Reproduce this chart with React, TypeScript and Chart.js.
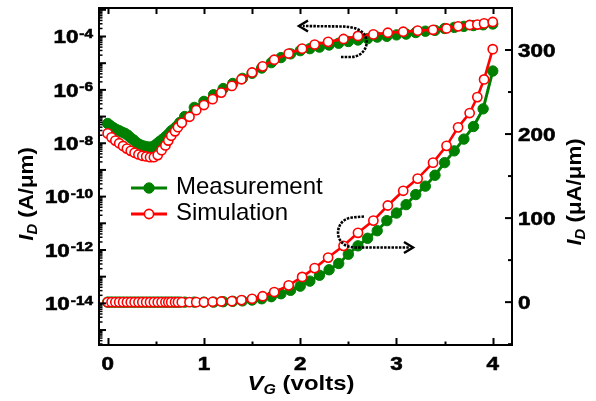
import { useEffect, useRef } from 'react';
import { Chart, registerables } from 'chart.js';

Chart.register(...registerables);

// Gate voltage sweep points (V)
const simV = [0, 0.04, 0.08, 0.12, 0.16, 0.2, 0.24, 0.28, 0.32, 0.36, 0.4, 0.44, 0.48, 0.52, 0.56, 0.6, 0.63, 0.66, 0.7, 0.73, 0.77, 0.85, 0.92, 1.0, 1.09, 1.18, 1.29, 1.39, 1.5, 1.61, 1.73, 1.88, 2.02, 2.15, 2.29, 2.45, 2.6, 2.76, 2.91, 3.07, 3.22, 3.38, 3.52, 3.64, 3.76, 3.84, 3.91, 4.0];
// Simulated drain current, A/um (log axis)
const simLog = [2.34e-8, 1.66e-8, 1.26e-8, 1.0e-8, 7.9e-9, 6.3e-9, 5.2e-9, 4.4e-9, 3.8e-9, 3.4e-9, 3.2e-9, 3.0e-9, 3.0e-9, 3.6e-9, 5.5e-9, 8.3e-9, 1.26e-8, 1.9e-8, 2.8e-8, 4.0e-8, 5.8e-8, 9.8e-8, 1.74e-7, 2.7e-7, 4.5e-7, 7.9e-7, 1.41e-6, 2.5e-6, 4.5e-6, 7.6e-6, 1.35e-5, 2.3e-5, 3.5e-5, 5.0e-5, 6.3e-5, 8.1e-5, 1.05e-4, 1.2e-4, 1.38e-4, 1.51e-4, 1.66e-4, 1.78e-4, 2.0e-4, 2.4e-4, 2.7e-4, 2.8e-4, 3.1e-4, 3.5e-4];
// Simulated drain current, uA/um (linear axis)
const simLin = [0, 0, 0, 0, 0, 0, 0, 0, 0, 0, 0, 0, 0, 0, 0, 0, 0, 0, 0, 0, 0, 0, 0, 0, 0.4, 0.8, 1.2, 2.4, 4, 7, 12, 20, 30, 40.5, 53, 67, 82.5, 97, 115, 132.5, 147, 166, 186, 208, 225, 244, 265, 301];

const measV = [0, 0.03, 0.06, 0.09, 0.12, 0.15, 0.18, 0.21, 0.24, 0.27, 0.3, 0.33, 0.36, 0.39, 0.42, 0.45, 0.48, 0.51, 0.54, 0.57, 0.6, 0.63, 0.66, 0.69, 0.72, 0.75, 0.8, 0.9, 1.0, 1.1, 1.2, 1.3, 1.4, 1.5, 1.6, 1.7, 1.8, 1.9, 2.0, 2.1, 2.2, 2.3, 2.4, 2.5, 2.6, 2.7, 2.8, 2.9, 3.0, 3.1, 3.2, 3.3, 3.4, 3.5, 3.6, 3.7, 3.8, 3.9, 4.0];
const measLog = [5.5e-8, 4.5e-8, 3.8e-8, 3.3e-8, 2.95e-8, 2.6e-8, 2.35e-8, 2.0e-8, 1.58e-8, 1.32e-8, 1.05e-8, 9.1e-9, 8.1e-9, 7.6e-9, 7.2e-9, 7.2e-9, 7.9e-9, 9.5e-9, 1.17e-8, 1.41e-8, 1.74e-8, 2.2e-8, 2.9e-8, 3.5e-8, 4.4e-8, 6.0e-8, 1.0e-7, 2.2e-7, 3.7e-7, 6.6e-7, 1.12e-6, 1.74e-6, 2.7e-6, 4.2e-6, 6.6e-6, 1.05e-5, 1.62e-5, 2.24e-5, 2.95e-5, 3.5e-5, 4.0e-5, 4.8e-5, 5.6e-5, 6.5e-5, 7.4e-5, 8.3e-5, 9.5e-5, 1.02e-4, 1.15e-4, 1.23e-4, 1.41e-4, 1.58e-4, 1.7e-4, 2.0e-4, 2.2e-4, 2.4e-4, 2.57e-4, 2.75e-4, 2.95e-4];
const measLin = [0, 0, 0, 0, 0, 0, 0, 0, 0, 0, 0, 0, 0, 0, 0, 0, 0, 0, 0, 0, 0, 0, 0, 0, 0, 0, 0, 0, 0, 0, 0.5, 1, 1.5, 2.5, 4, 6.5, 10, 14, 19, 25, 32, 38.5, 46, 57, 67, 76, 85, 97, 106, 116, 128, 138, 151, 166, 180, 194, 209, 230, 275];

// Axis ticks and labels
const xTicks = [0, 0.5, 1, 1.5, 2, 2.5, 3, 3.5, 4];
const xTickLabels = ['0', '1', '2', '3', '4'];
const leftExponents = [-14, -12, -10, -8, -6, -4];
const rightTicks = [0, 100, 200, 300];
const rightMinorTicks = [-50, 50, 150, 250];

const GREEN = '#008000';
const RED = '#ff0000';
const FAMILY = '"Liberation Sans", Arial, Helvetica, sans-serif';

type Part = { text: string; font: string; dy?: number };

function stretchText(ctx: CanvasRenderingContext2D, text: string, x: number, y: number, font: string, align: string, sx: number) {
  ctx.save();
  ctx.font = font;
  ctx.textAlign = 'left';
  ctx.textBaseline = 'alphabetic';
  const w = ctx.measureText(text).width * sx;
  let x0 = x;
  if (align === 'center') x0 = x - w / 2;
  else if (align === 'right') x0 = x - w;
  ctx.translate(x0, y);
  ctx.scale(sx, 1);
  ctx.fillText(text, 0, 0);
  // a light stroke thickens the bold glyphs a little
  ctx.lineWidth = 0.6;
  ctx.strokeStyle = ctx.fillStyle as string;
  ctx.strokeText(text, 0, 0);
  ctx.restore();
  return w;
}

// Draws a run of text pieces (for subscripts) centred on (cx, baseline cy), optionally rotated
function drawParts(ctx: CanvasRenderingContext2D, parts: Part[], cx: number, cy: number, rot: number, sx: number) {
  ctx.save();
  ctx.textAlign = 'left';
  ctx.textBaseline = 'alphabetic';
  let total = 0;
  const widths = parts.map((p) => {
    ctx.font = p.font;
    const w = ctx.measureText(p.text).width;
    total += w;
    return w;
  });
  ctx.translate(cx, cy);
  ctx.rotate(rot);
  ctx.scale(sx, 1);
  let x = -total / 2;
  parts.forEach((p, i) => {
    ctx.font = p.font;
    ctx.fillText(p.text, x, p.dy || 0);
    x += widths[i];
  });
  ctx.restore();
}

function arrowHead(ctx: CanvasRenderingContext2D, tipX: number, tipY: number, dir: number) {
  ctx.save();
  ctx.setLineDash([]);
  ctx.lineWidth = 2.5;
  ctx.lineJoin = 'miter';
  ctx.beginPath();
  ctx.moveTo(tipX - dir * 9, tipY - 5.5);
  ctx.lineTo(tipX, tipY);
  ctx.lineTo(tipX - dir * 9, tipY + 5.5);
  ctx.stroke();
  ctx.restore();
}

const decorPlugin = {
  id: 'decor',
  afterDatasetsDraw(chart: any) {
    const { ctx, chartArea: a, scales } = chart;
    const sx = scales.x;
    const sy = scales.y;
    const sy2 = scales.y2;
    ctx.save();
    ctx.fillStyle = '#000';
    ctx.strokeStyle = '#000';

    // frame
    ctx.lineWidth = 2;
    ctx.strokeRect(a.left, a.top, a.right - a.left, a.bottom - a.top);

    // x ticks (inward, bottom and top)
    xTicks.forEach((v) => {
      const px = Math.round(sx.getPixelForValue(v)) + 0.5;
      const major = Number.isInteger(v);
      ctx.lineWidth = 2;
      ctx.beginPath();
      ctx.moveTo(px, a.bottom);
      ctx.lineTo(px, a.bottom - (major ? 7 : 3.5));
      ctx.moveTo(px, a.top);
      ctx.lineTo(px, a.top + 6);
      ctx.stroke();
    });

    // left log ticks
    for (let e = -16; e <= -2; e++) {
      for (let m = 1; m <= 9; m++) {
        const v = m * Math.pow(10, e);
        if (v < sy.min || v > sy.max) continue;
        const py = sy.getPixelForValue(v);
        ctx.lineWidth = m === 1 ? 2 : 1.5;
        ctx.beginPath();
        ctx.moveTo(a.left, py);
        ctx.lineTo(a.left + (m === 1 ? 7 : 3.5), py);
        ctx.stroke();
      }
    }

    // right linear ticks
    rightTicks.forEach((v) => {
      const py = sy2.getPixelForValue(v);
      ctx.lineWidth = 2;
      ctx.beginPath();
      ctx.moveTo(a.right, py);
      ctx.lineTo(a.right - 7, py);
      ctx.stroke();
    });
    rightMinorTicks.forEach((v) => {
      const py = sy2.getPixelForValue(v);
      ctx.lineWidth = 2;
      ctx.beginPath();
      ctx.moveTo(a.right, py);
      ctx.lineTo(a.right - 4, py);
      ctx.stroke();
    });

    // tick labels
    const tickFont = `bold 19px ${FAMILY}`;
    const supFont = `bold 13px ${FAMILY}`;
    const stretch = 1.18;
    xTickLabels.forEach((t) => {
      const px = sx.getPixelForValue(Number(t));
      stretchText(ctx, t, px, a.bottom + 25, tickFont, 'center', stretch);
    });
    leftExponents.forEach((e) => {
      const py = sy.getPixelForValue(Math.pow(10, e));
      ctx.font = supFont;
      const supW = ctx.measureText(String(e)).width * stretch;
      const right = a.left - 6;
      stretchText(ctx, String(e), right, py + 1.5, supFont, 'right', stretch);
      stretchText(ctx, '10', right - supW - 1, py + 6.8, tickFont, 'right', stretch);
    });
    rightTicks.forEach((v) => {
      const py = sy2.getPixelForValue(v);
      stretchText(ctx, String(v), a.right + 6, py + 6.8, tickFont, 'left', stretch);
    });

    // axis titles
    const tFont = `bold 21px ${FAMILY}`;
    const tItal = `italic bold 21px ${FAMILY}`;
    const sub = `italic bold 14px ${FAMILY}`;
    drawParts(ctx, [
      { text: 'V', font: tItal },
      { text: 'G', font: sub, dy: 4 },
      { text: ' (volts)', font: tFont },
    ], 301, 390, 0, 1.14);
    drawParts(ctx, [
      { text: 'I', font: tItal },
      { text: 'D', font: sub, dy: 4 },
      { text: ' (A/\u03bcm)', font: tFont },
    ], 33, 194, -Math.PI / 2, 1.06);
    drawParts(ctx, [
      { text: 'I', font: tItal },
      { text: 'D', font: sub, dy: 4 },
      { text: ' (\u03bcA/\u03bcm)', font: tFont },
    ], 581, 192, -Math.PI / 2, 1.06);

    // legend
    const legend = [
      { label: 'Measurement', y: 188, color: GREEN, fill: GREEN, r: 5.2, bw: 1 },
      { label: 'Simulation', y: 214, color: RED, fill: '#fff', r: 4.6, bw: 1.6 },
    ];
    legend.forEach((l) => {
      ctx.strokeStyle = l.color;
      ctx.lineWidth = 3;
      ctx.beginPath();
      ctx.moveTo(131, l.y);
      ctx.lineTo(167, l.y);
      ctx.stroke();
      ctx.beginPath();
      ctx.arc(149, l.y, l.r, 0, Math.PI * 2);
      ctx.fillStyle = l.fill;
      ctx.fill();
      ctx.lineWidth = l.bw;
      ctx.stroke();
      ctx.fillStyle = '#000';
      ctx.font = `24px ${FAMILY}`;
      ctx.textAlign = 'left';
      ctx.textBaseline = 'alphabetic';
      ctx.fillText(l.label, 176, l.y + 5.5);
    });

    // dashed arrows pointing to each curve's axis
    ctx.strokeStyle = '#000';
    ctx.lineWidth = 2.6;
    ctx.setLineDash([2.5, 1.2]);
    ctx.beginPath();
    ctx.moveTo(341, 57);
    ctx.lineTo(351, 57);
    ctx.bezierCurveTo(361, 57, 369, 48, 366, 38);
    ctx.bezierCurveTo(363, 29, 353, 27, 343, 26.5);
    ctx.lineTo(303, 26);
    ctx.stroke();
    arrowHead(ctx, 299, 26, -1);

    ctx.setLineDash([2.5, 1.2]);
    ctx.beginPath();
    ctx.moveTo(364, 216.5);
    ctx.lineTo(352, 217.5);
    ctx.bezierCurveTo(340, 219, 336, 230, 339, 238);
    ctx.bezierCurveTo(342, 245, 348, 247.5, 356, 247.5);
    ctx.lineTo(409, 247.5);
    ctx.stroke();
    arrowHead(ctx, 413, 247.5, 1);

    ctx.restore();
  },
};

function pts(xs: number[], ys: number[]) {
  return xs.map((x, i) => ({ x, y: ys[i] }));
}

export default function App() {
  const ref = useRef<HTMLCanvasElement | null>(null);

  useEffect(() => {
    if (!ref.current) return;
    const simStyle = {
      borderColor: RED,
      backgroundColor: '#ffffff',
      pointBackgroundColor: '#ffffff',
      pointBorderColor: RED,
      pointBorderWidth: 1.6,
      pointRadius: 4.6,
      borderWidth: 2.6,
      tension: 0,
    };
    const measStyle = {
      borderColor: GREEN,
      backgroundColor: GREEN,
      pointBackgroundColor: GREEN,
      pointBorderColor: GREEN,
      pointBorderWidth: 1,
      pointRadius: 5.2,
      borderWidth: 3,
      tension: 0,
    };
    const chart = new Chart(ref.current, {
      type: 'line',
      data: {
        datasets: [
          { label: 'Simulation', data: pts(simV, simLog), yAxisID: 'y', ...simStyle },
          { label: 'Simulation', data: pts(simV, simLin), yAxisID: 'y2', ...simStyle },
          { label: 'Measurement', data: pts(measV, measLog), yAxisID: 'y', ...measStyle },
          { label: 'Measurement', data: pts(measV, measLin), yAxisID: 'y2', ...measStyle },
        ],
      },
      options: {
        animation: false,
        responsive: false,
        events: [],
        layout: { padding: { left: 99, right: 84, top: 8, bottom: 56 } },
        plugins: { legend: { display: false }, tooltip: { enabled: false } },
        scales: {
          x: { type: 'linear', min: -0.09, max: 4.2, display: false },
          y: { type: 'logarithmic', min: 2.75e-16, max: 1.17e-3, display: false, bounds: 'data' },
          y2: { type: 'linear', min: -51, max: 350, display: false, position: 'right' },
        },
      },
      plugins: [decorPlugin],
    } as any);
    return () => chart.destroy();
  }, []);

  return (
    <div style={{ position: 'fixed', left: 0, top: 0, width: 596, height: 401, background: '#fff' }}>
      <canvas ref={ref} width={596} height={401} style={{ display: 'block' }} />
    </div>
  );
}
